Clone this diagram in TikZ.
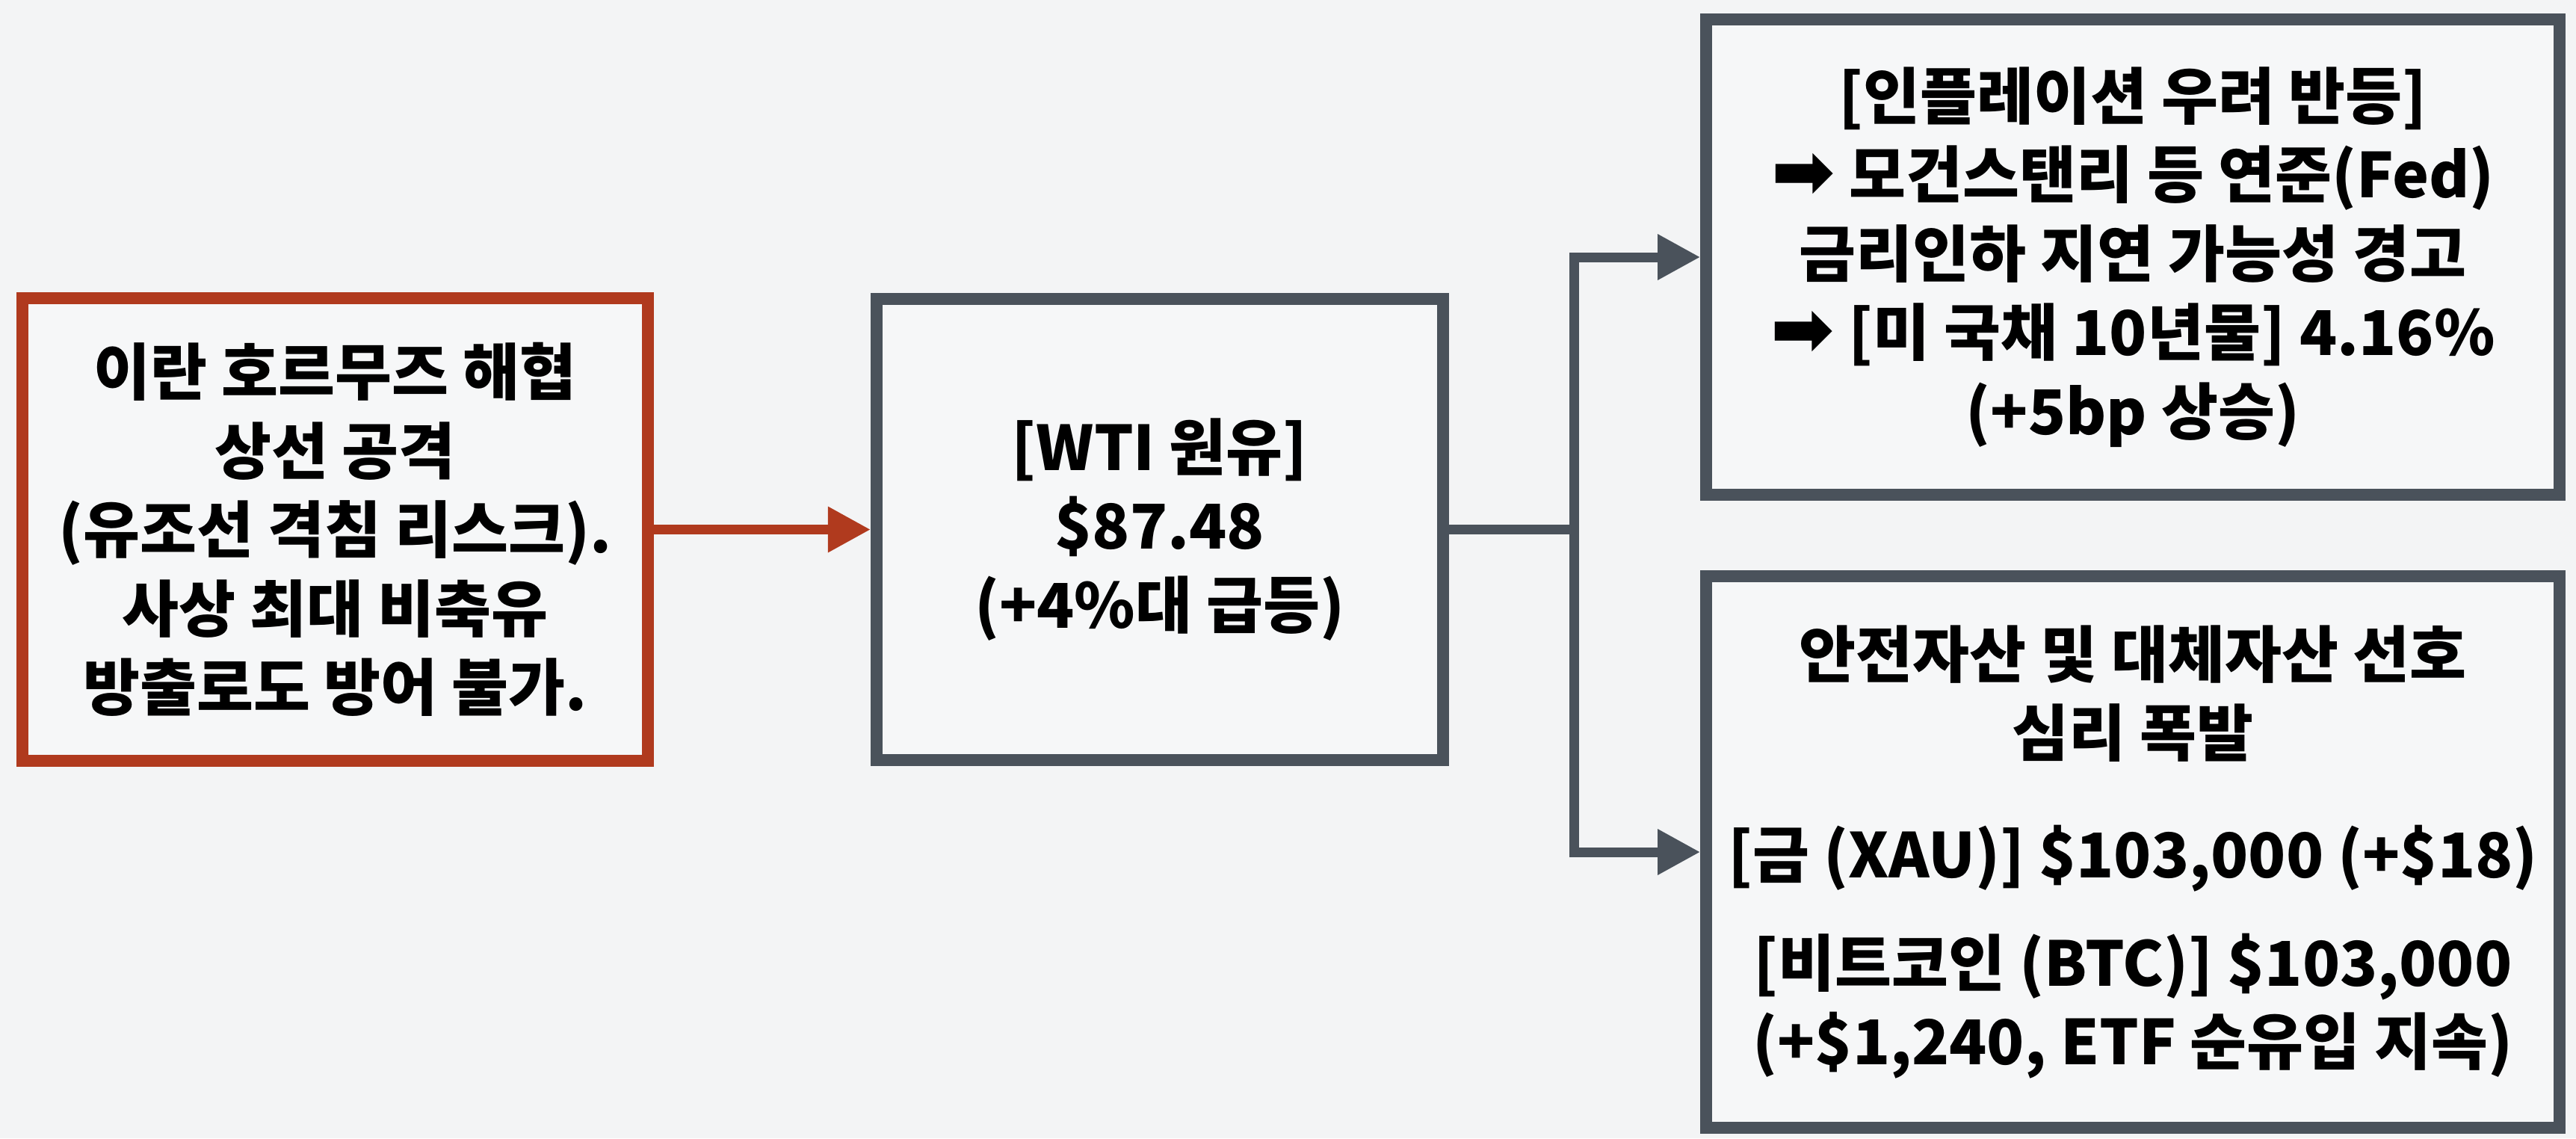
\documentclass[tikz,border=0pt]{standalone}
\usepackage{fontspec}
\setmainfont{Noto Sans CJK KR}
\newfontfamily\symfont{DejaVu Sans}
\usetikzlibrary{arrows.meta,positioning}
\definecolor{bgcolor}{HTML}{F3F4F5}
\definecolor{boxfill}{HTML}{F6F7F8}
\definecolor{causered}{HTML}{B03A1E}
\definecolor{linegray}{HTML}{4A525B}
\newcommand{\arr}{{\symfont\bfseries\fontsize{29}{30}\selectfont ➡}}
\tikzset{%
	cause/.style = {
		rectangle, draw=causered, line width=4.5pt, fill=boxfill,
		minimum width=8.37cm, minimum height=6.19cm
	},
	box/.style = {
		rectangle, draw=linegray, line width=4.5pt, fill=boxfill
	},
	link/.style = {
		line width=3.7pt, -{Triangle[length=5.7mm,width=5.8mm]}
	}
}

\begin{document}
\begin{tikzpicture}[every node/.style={font=\bfseries\fontsize{23.5}{30}\selectfont}, align=center]
    \fill[bgcolor] (0,0) rectangle (34.47,-15.23);
    \useasboundingbox (0,0) rectangle (34.47,-15.23);
    % Specification of nodes (position, etc.)
    \node (attack)     [cause]                                            at (4.485,-7.085) {이란 호르무즈 해협\\상선 공격\\(유조선 격침 리스크).\\사상 최대 비축유\\방출로도 방어 불가.};
    \node (oil)        [box, minimum width=7.58cm, minimum height=6.17cm, right=2.9cm of attack] {[WTI 원유]\\\$87.48\\(+4\%대 급등)};
    \node (inflation)  [box, minimum width=11.42cm, minimum height=6.36cm] at (28.54,-3.44) {[인플레이션 우려 반등]\\\arr{} 모건스탠리 등 연준(Fed)\\금리인하 지연 가능성 경고\\\arr{} [미 국채 10년물] 4.16\%\\(+5bp 상승)};
    \node (safehaven)  [box, minimum width=11.42cm, minimum height=7.38cm] at (28.54,-11.40) {안전자산 및 대체자산 선호\\심리 폭발\\[0.57cm][금 (XAU)] \$103,000 (+\$18)\\[0.4cm][비트코인 (BTC)] \$103,000\\(+\$1,240, ETF 순유입 지속)};
    \node (split)      [coordinate, right=1.68cm of oil] {};

    \draw[link, causered]  (attack) -- (oil);
    \draw[line width=3.7pt, linegray] (oil) -- (split);
    \draw[link, linegray]  (split) |- (inflation);
    \draw[link, linegray]  (split) |- (safehaven);

\end{tikzpicture}
\end{document}
